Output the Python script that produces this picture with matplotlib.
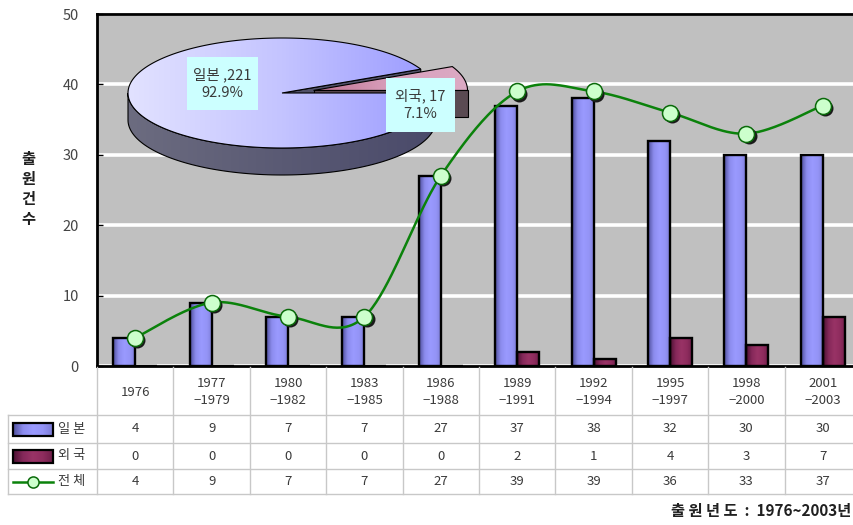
import numpy as np
import matplotlib
matplotlib.use("Agg")
import matplotlib.pyplot as plt
import matplotlib.transforms as mtransforms
from matplotlib.patches import Polygon, Rectangle
from matplotlib.colors import LinearSegmentedColormap

plt.rcParams["font.family"] = ["Noto Sans CJK KR", "DejaVu Sans"]

# ---- data -------------------------------------------------------------
periods = ["1976", "1977\n−1979", "1980\n−1982", "1983\n−1985", "1986\n−1988",
           "1989\n−1991", "1992\n−1994", "1995\n−1997", "1998\n−2000", "2001\n−2003"]
japan = [4, 9, 7, 7, 27, 37, 38, 32, 30, 30]
foreign = [0, 0, 0, 0, 0, 2, 1, 4, 3, 7]
total = [4, 9, 7, 7, 27, 39, 39, 36, 33, 37]
series_names = ["일본", "외국", "전체"]
pie_names = ["일본", "외국"]
pie_values = [221, 17]
y_ticks = [0, 10, 20, 30, 40, 50]

# ---- colours ----------------------------------------------------------
BLUE_GRAD = ["#4e4e9a", "#8c8cee", "#9a9aff", "#9494f6", "#7a7ad4"]
MAROON_GRAD = ["#4a1030", "#85285a", "#993366", "#8e2c5e", "#6e1e48"]
LINE_GREEN = "#0b820b"
TXT = "#3a3a3a"
GRID_LINE = "#c8c8c8"

W, H = 854, 525
fig = plt.figure(figsize=(W / 100, H / 100), dpi=100)
fig.patch.set_facecolor("white")

L, R, T, B = 97, 861, 14, 366
ax = fig.add_axes([L / W, 1 - B / H, (R - L) / W, (B - T) / H])
ax.set_facecolor("#c0c0c0")

ov = fig.add_axes([0, 0, 1, 1], zorder=5)
ov.patch.set_alpha(0)
ov.axis("off")


def gradient_fill(axis, patch, colors, extent, z):
    """Fill a patch with a left-to-right colour gradient."""
    cmap = LinearSegmentedColormap.from_list("g", colors)
    g = np.linspace(0, 1, 256).reshape(1, -1)
    patch.set_facecolor("none")
    patch.set_zorder(z)
    axis.add_patch(patch)
    im = axis.imshow(g, cmap=cmap, extent=extent, aspect="auto",
                     interpolation="bicubic", zorder=z - 0.05)
    im.set_clip_path(patch)
    return patch


# ---- bars -------------------------------------------------------------
x = np.arange(len(periods))
bw = 0.288
for xs, vals, grad in ((x - bw / 2, japan, BLUE_GRAD), (x + bw / 2, foreign, MAROON_GRAD)):
    bars = ax.bar(xs, vals, bw, facecolor="none", edgecolor="black", linewidth=1.7, zorder=3)
    for b in bars:
        h = b.get_height()
        if h <= 0:
            continue
        x0 = b.get_x()
        clip = Rectangle((x0, 0), bw, h, facecolor="none", edgecolor="none")
        gradient_fill(ax, clip, grad, (x0, x0 + bw, 0, h), 2.9)


# ---- smoothed total line ---------------------------------------------
def smooth(xv, yv, n=40):
    P = np.column_stack([xv, yv]).astype(float)
    P = np.vstack([P[0], P, P[-1]])
    t = np.linspace(0, 1, n)[:, None]
    h00 = 2 * t**3 - 3 * t**2 + 1
    h10 = t**3 - 2 * t**2 + t
    h01 = -2 * t**3 + 3 * t**2
    h11 = t**3 - t**2
    segs = []
    for i in range(1, len(P) - 2):
        p0, p1, p2, p3 = P[i - 1], P[i], P[i + 1], P[i + 2]
        m1 = (p2 - p0) / 2
        m2 = (p3 - p1) / 2
        segs.append(h00 * p1 + h10 * m1 + h01 * p2 + h11 * m2)
    c = np.vstack(segs)
    return c[:, 0], c[:, 1]


sx, sy = smooth(x, total)
ax.plot(sx, sy, color=LINE_GREEN, lw=1.8, zorder=4, solid_capstyle="round")
shadow = mtransforms.offset_copy(ax.transData, fig=fig, x=1.6, y=-1.6, units="points")
ax.plot(x, total, "o", ms=11.5, color="#1a1a1a", transform=shadow, zorder=4.5, mew=0)
ax.plot(x, total, "o", ms=11.5, mfc="#ccffcc", mec="#0a6a0a", mew=1.1, zorder=5)

# ---- axes styling -----------------------------------------------------
ax.set_xlim(-0.5, len(periods) - 0.5)
ax.set_ylim(0, 50)
ax.set_yticks(y_ticks)
ax.set_xticks([])
ax.yaxis.grid(True, color="white", lw=2.6)
ax.set_axisbelow(True)
ax.tick_params(axis="y", direction="in", length=4, width=1, pad=13,
               labelsize=10.5, labelcolor="#444444", color="black")
for s in ("left", "top", "bottom"):
    ax.spines[s].set_linewidth(2)
    ax.spines[s].set_color("black")
ax.spines["right"].set_visible(False)

# ---- data table under the plot ----------------------------------------
tb = mtransforms.blended_transform_factory(ax.transData, ov.transData)
row_lines = [415, 443, 469, 494]
row_centres = [429, 456, 481.5]
for k in range(len(periods) + 1):
    ov.plot([k - 0.5, k - 0.5], [367, 494], transform=tb, color=GRID_LINE, lw=1, zorder=1)
ov.plot([8, 8], [415, 494], color=GRID_LINE, lw=1, zorder=1)
for yv in row_lines:
    ov.plot([8, W + 10], [yv, yv], color=GRID_LINE, lw=1, zorder=1)

for i, p in enumerate(periods):
    ov.text(i, 392, p, transform=tb, ha="center", va="center", fontsize=9.5,
            color=TXT, linespacing=1.45)
for vals, yc in zip((japan, foreign, total), row_centres):
    for i, v in enumerate(vals):
        ov.text(i, yc, str(v), transform=tb, ha="center", va="center",
                fontsize=9.5, color=TXT)

# legend keys in the first column
for name, yc, grad in zip(series_names[:2], row_centres[:2], (BLUE_GRAD, MAROON_GRAD)):
    r = Rectangle((13, yc - 6.5), 40, 13, edgecolor="black", linewidth=1.6)
    gradient_fill(ov, r, grad, (13, 53, yc + 6.5, yc - 6.5), 3)
    ov.text(58, yc, " ".join(name), ha="left", va="center", fontsize=9.5, color=TXT)
ov.plot([13, 53], [row_centres[2]] * 2, color=LINE_GREEN, lw=1.8, zorder=3)
ov.plot([33], [row_centres[2]], "o", ms=8, mfc="#ccffcc", mec="#0a6a0a", mew=1.1, zorder=4)
ov.text(58, row_centres[2], " ".join(series_names[2]), ha="left", va="center",
        fontsize=9.5, color=TXT)

# ---- axis titles ------------------------------------------------------
ov.text(28, 189, "\n".join("출원건수"), ha="center", va="center", fontsize=11,
        fontweight="bold", color="#202020", linespacing=1.3)
ov.text(851, 511, "출 원 년 도  :  1976~2003년", ha="right", va="center", fontsize=11,
        fontweight="bold", color="#202020")

# ---- 3-D pie inset ----------------------------------------------------
cx, cy, rx, ry, depth = 282, 93, 154, 55, 27
tot = sum(pie_values)
a_f = 360 * pie_values[1] / tot          # foreign slice spans 0 .. a_f degrees
explode = 0.21
mid = np.radians(a_f / 2)
ox, oy = explode * rx * np.cos(mid), -explode * ry * np.sin(mid)


def arc(a0, a1, dx=0.0, dy=0.0, dz=0.0, n=120):
    th = np.radians(np.linspace(a0, a1, n))
    return np.column_stack([cx + dx + rx * np.cos(th), cy + dy - ry * np.sin(th) + dz])


edge = dict(edgecolor="black", linewidth=0.8)

# inner radial face of the large slice (visible through the gap)
pa = arc(a_f, a_f, n=1)[0]
face_j = Polygon([(cx, cy), pa, (pa[0], pa[1] + depth), (cx, cy + depth)],
                 closed=True, facecolor="#505068", **edge, zorder=1)
ov.add_patch(face_j)

# front face of the exploded slice
p0 = arc(0, 0, ox, oy, n=1)[0]
c2 = (cx + ox, cy + oy)
face_f = Polygon([c2, p0, (p0[0], p0[1] + depth), (c2[0], c2[1] + depth)],
                 closed=True, facecolor="#5a4a52", **edge, zorder=2)
ov.add_patch(face_f)

# top of the exploded slice
top_f = Polygon(np.vstack([[c2], arc(0, a_f, ox, oy)]), closed=True, **edge)
gradient_fill(ov, top_f, ["#c07090", "#d8a0bc", "#dcaac4"],
              (c2[0], cx + ox + rx, cy + 40, cy - 40), 3)

# outer wall of the large slice (front half)
wall = np.vstack([arc(180, 360), arc(360, 180, dz=depth)])
side_j = Polygon(wall, closed=True, **edge)
gradient_fill(ov, side_j, ["#6c6c80", "#5a5a74", "#4a4a6a"],
              (cx - rx, cx + rx, cy + ry + depth, cy - ry), 4)

# top of the large slice
top_j = Polygon(np.vstack([[(cx, cy)], arc(a_f, 360, n=300)]), closed=True, **edge)
gradient_fill(ov, top_j, ["#e2e2ff", "#c4c4ff", "#9a9aff"],
              (cx - rx, cx + rx, cy + ry, cy - ry), 5)

# data labels of the pie
pct = [100 * v / tot for v in pie_values]
boxes = [(187, 57, 258, 110), (386, 78, 455, 132)]
label_txt = [f"{pie_names[0]} ,{pie_values[0]}\n{pct[0]:.1f}%",
             f"{pie_names[1]}, {pie_values[1]}\n{pct[1]:.1f}%"]
for (bx0, by0, bx1, by1), s in zip(boxes, label_txt):
    ov.add_patch(Rectangle((bx0, by0), bx1 - bx0, by1 - by0, facecolor="#ccffff",
                           edgecolor="none", zorder=6))
    ov.text((bx0 + bx1) / 2, (by0 + by1) / 2, s, ha="center", va="center",
            fontsize=10.5, color=TXT, linespacing=1.35, zorder=7)

ov.set_xlim(0, W)
ov.set_ylim(H, 0)
ax.set_xlim(-0.5, len(periods) - 0.5)
ax.set_ylim(0, 50)

fig.savefig("out.png", dpi=100)
